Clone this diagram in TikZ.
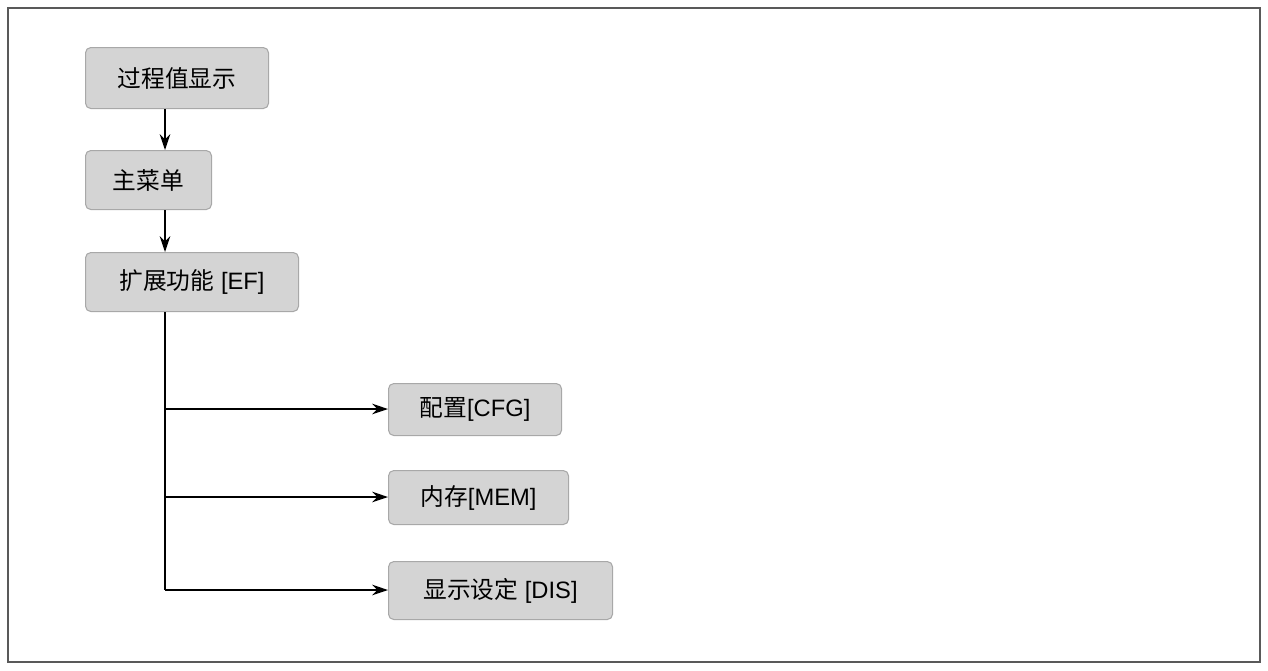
\documentclass[tikz,border=0pt]{standalone}
\usepackage{fontspec}
\setmainfont{Liberation Sans}
\newfontfamily\cjk{Noto Sans CJK SC}
\usetikzlibrary{arrows.meta}
\definecolor{boxfill}{HTML}{D4D4D4}
\definecolor{boxline}{HTML}{A8A8A8}
\tikzset{
    menu/.style={draw=boxline, fill=boxfill, rounded corners=3pt, line width=0.6pt,
        anchor=north west, inner sep=0pt, font=\fontsize{13.5}{16}\selectfont},
    link/.style={line width=0.8pt, -{Stealth[length=9pt,width=6pt]}}
}
\begin{document}
\begin{tikzpicture}[x=0.02cm,y=-0.02cm]
    % Rahmen
    \useasboundingbox (0,0) rectangle (1268,670);
    \draw[line width=0.8pt, draw=black!65] (8,8) rectangle (1260,662);

    % Menues
    \node[menu, minimum width=183*0.02cm, minimum height=61*0.02cm] (pv) at (85,47) {\cjk 过程值显示};
    \node[menu, minimum width=126*0.02cm, minimum height=59*0.02cm] (main) at (85,150) {\cjk 主菜单};
    \node[menu, minimum width=213*0.02cm, minimum height=59*0.02cm] (ef) at (85,252) {{\cjk 扩展功能} [EF]};

    \node[menu, minimum width=173*0.02cm, minimum height=52*0.02cm] (cfg) at (388,383) {{\cjk 配置}[CFG]};
    \node[menu, minimum width=180*0.02cm, minimum height=54*0.02cm] (mem) at (388,470) {{\cjk 内存}[MEM]};
    \node[menu, minimum width=224*0.02cm, minimum height=58*0.02cm] (dis) at (388,561) {{\cjk 显示设定} [DIS]};

    % Verbindungen
    \coordinate (top) at (165,311);
    \coordinate (p1) at (165,409);
    \coordinate (p2) at (165,497);
    \coordinate (p3) at (165,590);
    \draw[link] (pv.south -| top) -- (main.north -| top);
    \draw[link] (main.south -| top) -- (ef.north -| top);
    \draw[line width=0.8pt] (ef.south -| top) -- (p3);
    \draw[link] (p1) -- (cfg.west |- p1);
    \draw[link] (p2) -- (mem.west |- p2);
    \draw[link] (p3) -- (dis.west |- p3);
\end{tikzpicture}
\end{document}
